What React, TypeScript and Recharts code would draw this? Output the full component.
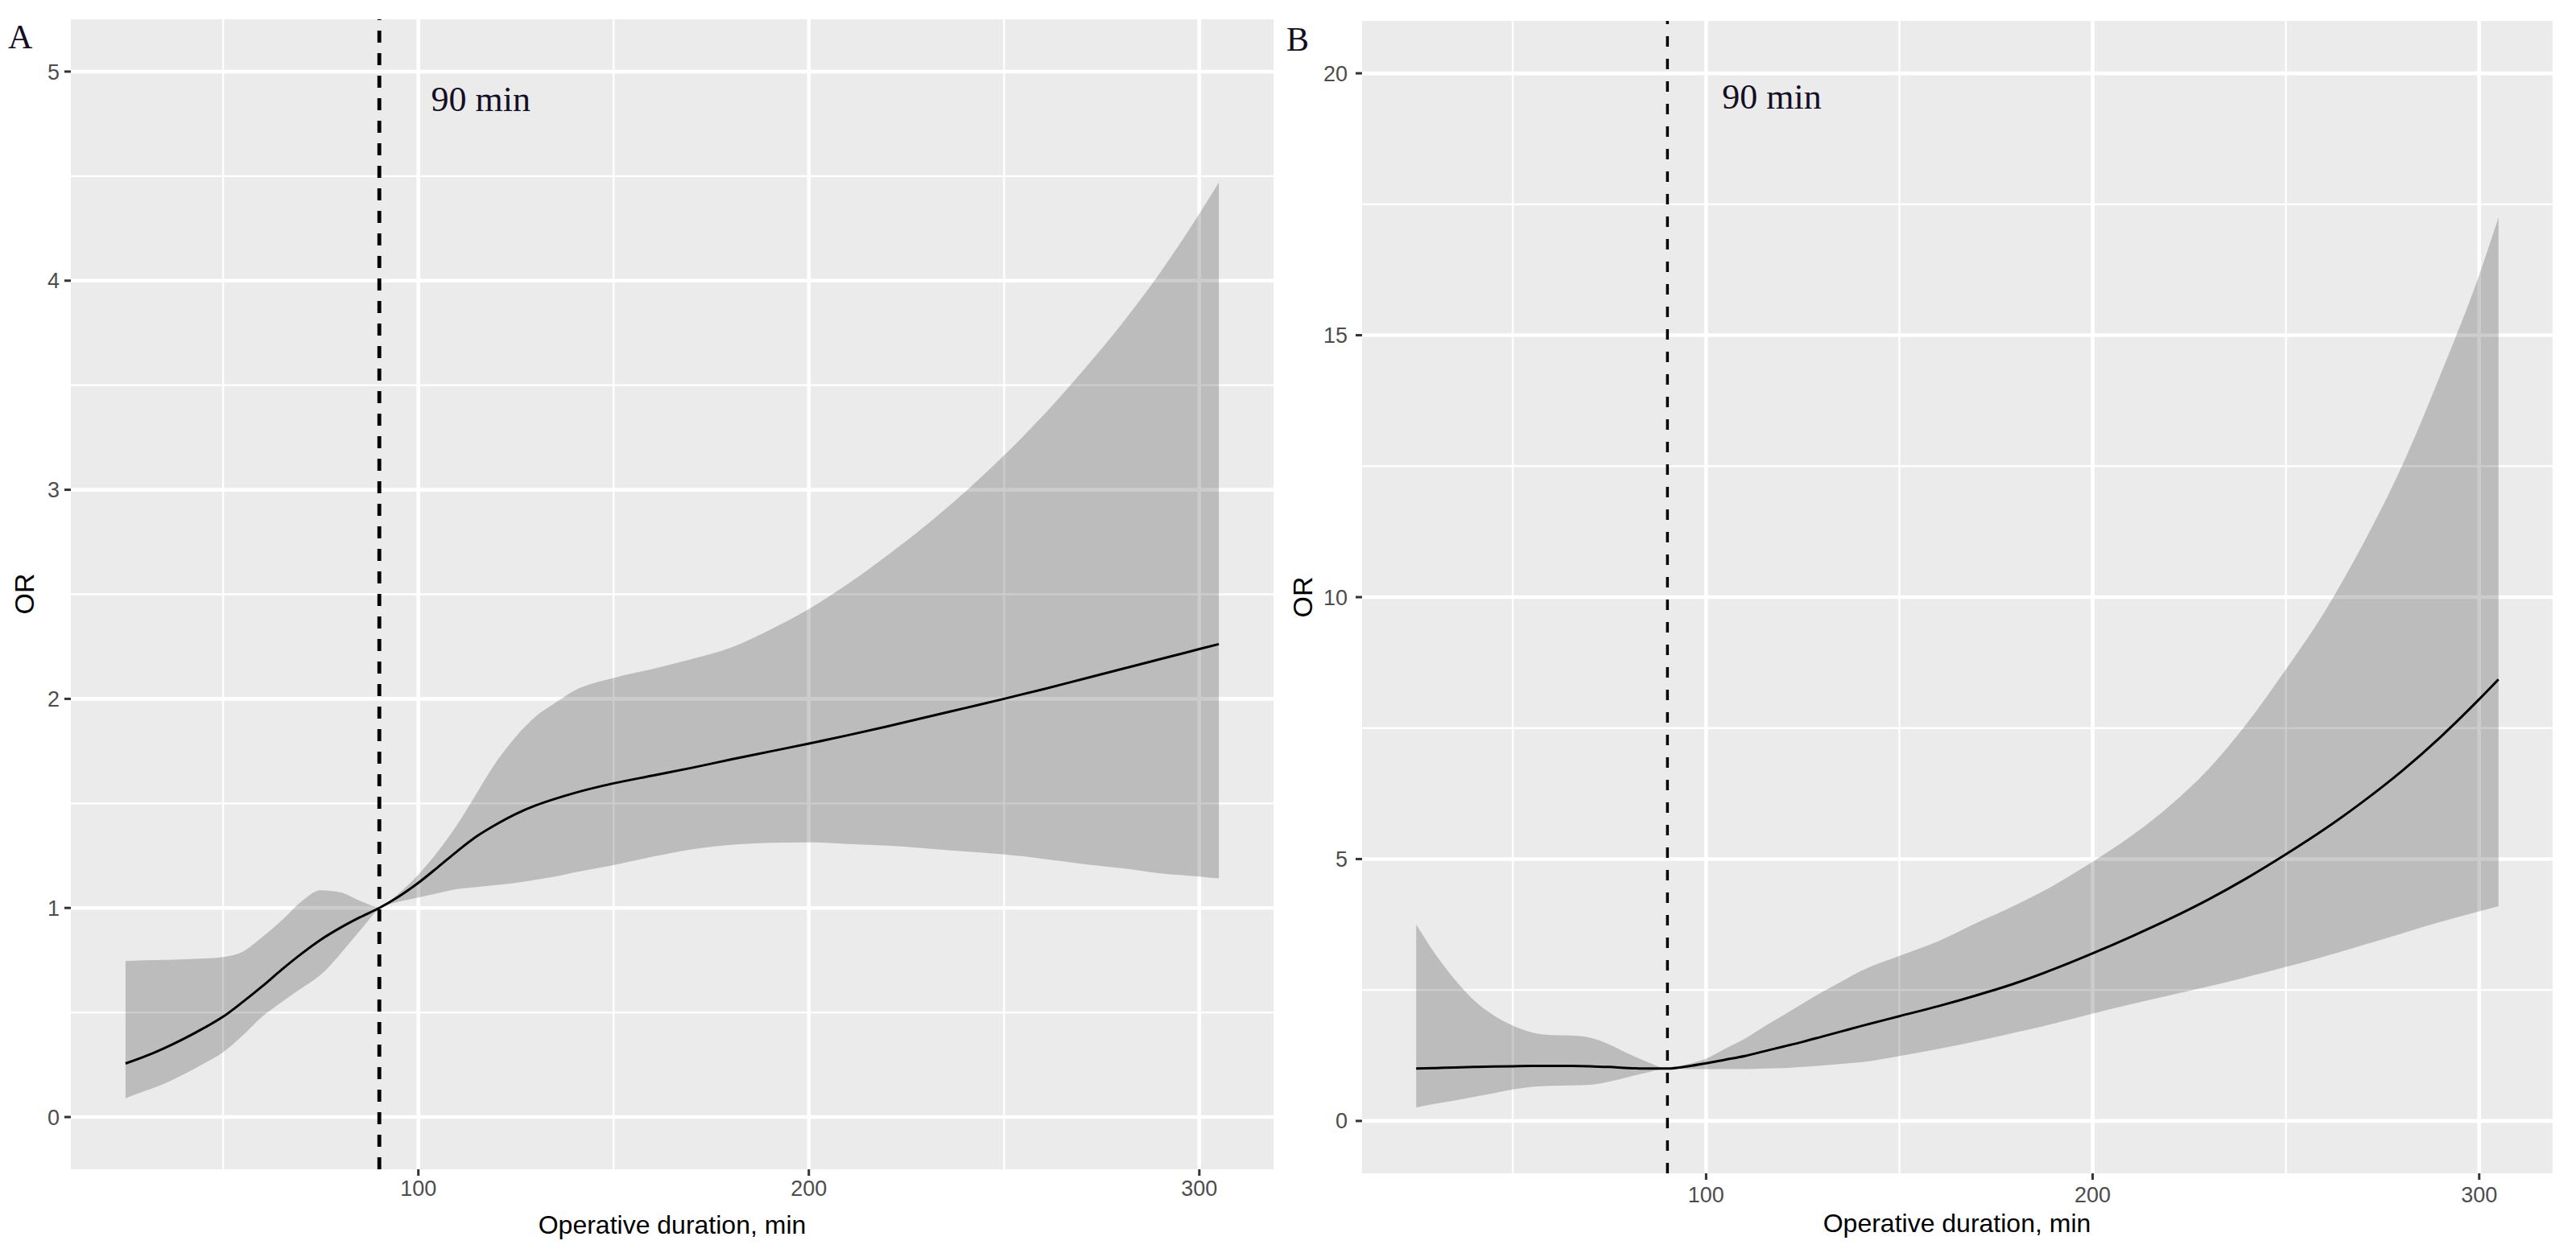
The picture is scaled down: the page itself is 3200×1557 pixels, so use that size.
import { ComposedChart, Area, Line, XAxis, YAxis, CartesianGrid, ReferenceLine, ReferenceDot } from "recharts";

// operative duration (min) where the curves were read
const durations = [25, 30, 35, 40, 45, 50, 55, 60, 65, 70, 75, 80, 85, 90, 95, 100, 105, 110, 115, 120, 125, 130, 135, 140, 150, 160, 170, 180, 190, 200, 210, 220, 230, 240, 250, 260, 270, 280, 290, 300, 305];

// panel A
const fitA = [0.256, 0.29, 0.33, 0.375, 0.425, 0.48, 0.55, 0.625, 0.705, 0.78, 0.848, 0.905, 0.955, 1.0, 1.055, 1.12, 1.195, 1.272, 1.343, 1.4, 1.45, 1.49, 1.522, 1.55, 1.596, 1.633, 1.67, 1.71, 1.748, 1.786, 1.826, 1.868, 1.912, 1.956, 2.0, 2.046, 2.094, 2.142, 2.19, 2.238, 2.262];
const lowA = [0.09, 0.125, 0.16, 0.205, 0.255, 0.31, 0.39, 0.48, 0.55, 0.615, 0.68, 0.78, 0.89, 0.995, 1.03, 1.05, 1.07, 1.09, 1.1, 1.11, 1.12, 1.135, 1.15, 1.17, 1.205, 1.245, 1.28, 1.302, 1.312, 1.314, 1.306, 1.298, 1.285, 1.27, 1.256, 1.235, 1.211, 1.19, 1.165, 1.15, 1.141];
const highA = [0.746, 0.75, 0.752, 0.755, 0.758, 0.765, 0.79, 0.86, 0.94, 1.03, 1.085, 1.075, 1.035, 1.005, 1.07, 1.16, 1.27, 1.4, 1.55, 1.7, 1.82, 1.915, 1.98, 2.04, 2.1, 2.143, 2.19, 2.245, 2.33, 2.43, 2.55, 2.685, 2.83, 2.99, 3.165, 3.355, 3.565, 3.79, 4.04, 4.32, 4.47];

// panel B
const fitB = [1.0, 1.01, 1.02, 1.03, 1.04, 1.045, 1.05, 1.05, 1.05, 1.045, 1.03, 1.01, 1.0, 1.0, 1.04, 1.1, 1.17, 1.24, 1.33, 1.42, 1.51, 1.61, 1.71, 1.81, 2.0, 2.19, 2.4, 2.63, 2.9, 3.2, 3.52, 3.86, 4.23, 4.64, 5.09, 5.57, 6.1, 6.68, 7.33, 8.05, 8.43];
const lowB = [0.257, 0.33, 0.39, 0.46, 0.53, 0.6, 0.65, 0.67, 0.68, 0.69, 0.75, 0.84, 0.93, 1.0, 0.99, 0.99, 0.99, 0.99, 1.0, 1.01, 1.03, 1.06, 1.09, 1.12, 1.24, 1.375, 1.525, 1.69, 1.86, 2.05, 2.23, 2.4, 2.57, 2.75, 2.94, 3.14, 3.36, 3.58, 3.8, 4.0, 4.1];
const highB = [3.75, 3.18, 2.7, 2.3, 2.02, 1.82, 1.69, 1.64, 1.63, 1.59, 1.46, 1.28, 1.12, 1.0, 1.08, 1.19, 1.38, 1.57, 1.8, 2.02, 2.24, 2.46, 2.66, 2.86, 3.15, 3.43, 3.78, 4.12, 4.5, 4.95, 5.44, 6.02, 6.72, 7.6, 8.62, 9.72, 11.02, 12.5, 14.25, 16.15, 17.25];

const xMajor = [100, 200, 300];
const xMinor = [50, 150, 250];
const yMajorA = [0, 1, 2, 3, 4, 5];
const yMinorA = [0.5, 1.5, 2.5, 3.5, 4.5];
const yMajorB = [0, 5, 10, 15, 20];
const yMinorB = [2.5, 7.5, 12.5, 17.5];
const cutoff = 90;

const SANS = '"Liberation Sans", Arial, sans-serif';
const SERIF = '"Liberation Serif", "Times New Roman", serif';

const rowsA = durations.map((x, i) => ({ x, fit: fitA[i], band: [lowA[i], highA[i]] }));
const rowsB = durations.map((x, i) => ({ x, fit: fitB[i], band: [lowB[i], highB[i]] }));

type PanelProps = {
  rows: { x: number; fit: number; band: number[] }[];
  left: number;
  margin: { top: number; right: number; bottom: number; left: number };
  yAxisWidth: number;
  xAxisHeight: number;
  yDomain: [number, number];
  yMajor: number[];
  yMinor: number[];
  yTickMargin: number;
  xTickMargin: number;
  dashWidth: number;
  dash: string;
  note: { x: number; y: number };
};

function Panel(p: PanelProps) {
  return (
    <div style={{ position: "absolute", left: p.left, top: 0 }}>
      <ComposedChart width={1600} height={1557} data={p.rows} margin={p.margin}>
        <CartesianGrid fill="#EBEBEB" fillOpacity={1} stroke="#FFFFFF" strokeWidth={2.3} horizontalValues={p.yMinor} verticalValues={xMinor} />
        <CartesianGrid stroke="#FFFFFF" strokeWidth={4.6} horizontalValues={p.yMajor} verticalValues={xMajor} />
        <XAxis
          type="number"
          dataKey="x"
          domain={[11, 319]}
          allowDataOverflow
          ticks={xMajor}
          height={p.xAxisHeight}
          axisLine={false}
          tickSize={8}
          tickMargin={p.xTickMargin}
          tickLine={{ stroke: "#333333", strokeWidth: 3 }}
          tick={{ fill: "#4D4D4D", fontSize: 27, fontFamily: SANS }}
        />
        <YAxis
          type="number"
          domain={p.yDomain}
          allowDataOverflow
          ticks={p.yMajor}
          width={p.yAxisWidth}
          axisLine={false}
          tickSize={8}
          tickMargin={p.yTickMargin}
          tickLine={{ stroke: "#333333", strokeWidth: 3 }}
          tick={{ fill: "#4D4D4D", fontSize: 27, fontFamily: SANS }}
        />
        <Area type="monotone" dataKey="band" stroke="none" fill="#000000" fillOpacity={0.2} isAnimationActive={false} />
        <Line type="monotone" dataKey="fit" stroke="#000000" strokeWidth={3} dot={false} activeDot={false} isAnimationActive={false} />
        <ReferenceLine x={cutoff} stroke="#000000" strokeWidth={p.dashWidth} strokeDasharray={p.dash} />
        <ReferenceDot
          x={p.note.x}
          y={p.note.y}
          r={0}
          shape={(s: any) => (
            <text x={s.cx} y={s.cy} textAnchor="middle" fontFamily={SERIF} fontSize={44} fill="#150f26">
              90 min
            </text>
          )}
        />
      </ComposedChart>
    </div>
  );
}

export default function App() {
  return (
    <div style={{ position: "absolute", left: 0, top: 0, width: 3200, height: 1557, background: "#FFFFFF", overflow: "hidden" }}>
      <Panel
        rows={rowsA}
        left={0}
        margin={{ top: 24, right: 18, bottom: 0, left: 0 }}
        yAxisWidth={88}
        xAxisHeight={104}
        yDomain={[-0.25, 5.25]}
        yMajor={yMajorA}
        yMinor={yMinorA}
        yTickMargin={6}
        xTickMargin={6}
        dashWidth={4.8}
        dash="15 13"
        note={{ x: 116, y: 4.81 }}
      />
      <Panel
        rows={rowsB}
        left={1600}
        margin={{ top: 26, right: 29, bottom: 0, left: 0 }}
        yAxisWidth={92}
        xAxisHeight={99}
        yDomain={[-1, 21]}
        yMajor={yMajorB}
        yMinor={yMinorB}
        yTickMargin={10}
        xTickMargin={9}
        dashWidth={3.5}
        dash="13 15"
        note={{ x: 117, y: 19.32 }}
      />
      <svg width={3200} height={1557} style={{ position: "absolute", left: 0, top: 0, pointerEvents: "none" }}>
        <text x={10} y={60} fontFamily={SERIF} fontSize={42} fill="#150f26">A</text>
        <text x={1598} y={63} fontFamily={SERIF} fontSize={42} fill="#150f26">B</text>
        <text x={835} y={1533} textAnchor="middle" fontFamily={SANS} fontSize={32} fill="#000000">Operative duration, min</text>
        <text x={2431} y={1531} textAnchor="middle" fontFamily={SANS} fontSize={32} fill="#000000">Operative duration, min</text>
        <text x={42} y={738} textAnchor="middle" transform="rotate(-90 42 738)" fontFamily={SANS} fontSize={34} fill="#000000">OR</text>
        <text x={1630} y={742} textAnchor="middle" transform="rotate(-90 1630 742)" fontFamily={SANS} fontSize={34} fill="#000000">OR</text>
      </svg>
    </div>
  );
}
